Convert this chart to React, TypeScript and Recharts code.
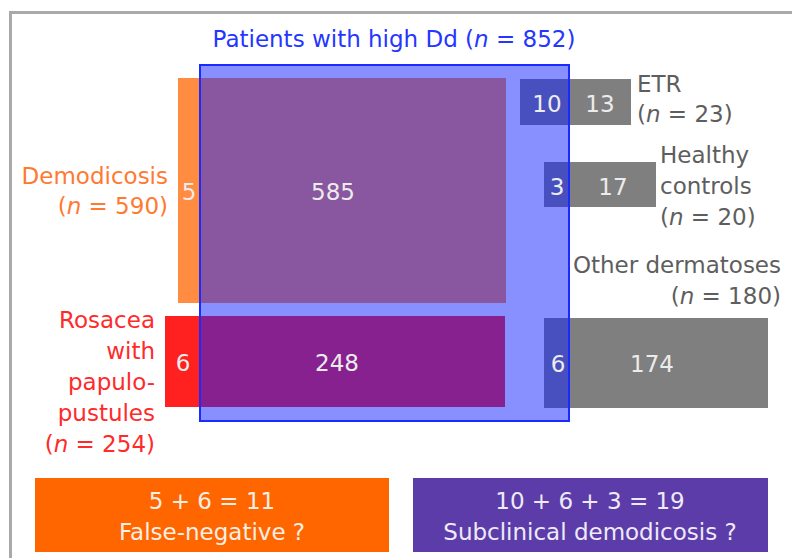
import React from 'react';
import { ComposedChart, XAxis, YAxis, ReferenceArea, ReferenceDot } from 'recharts';

// ---- data ----
const groupLabelLines: string[][] = [
  ['Demodicosis'],
  ['Rosacea', 'with', 'papulo-', 'pustules'],
  ['ETR'],
  ['Healthy', 'controls'],
  ['Other dermatoses'],
];
const groupTotals: number[] = [590, 254, 23, 20, 180];
const highDdCounts: number[] = [585, 248, 10, 3, 6];
const lowDdCounts: number[] = [5, 6, 13, 17, 174];
const highDdTotal = 852;
const highDdTitle = 'Patients with high Dd';
const falseNegativeGroups: number[] = [0, 1];
const subclinicalGroups: number[] = [2, 4, 3];
const summaryTitles: string[] = ['False-negative ?', 'Subclinical demodicosis ?'];

// ---- layout (diagram coordinates) ----
const W = 792;
const H = 558;
const FONT = '"DejaVu Sans", Verdana, sans-serif';
const FS = 23;

const boxLayout = [
  { x1: 178, x2: 506, y1: 78, y2: 303, fill: '#ff8c40', lowX: 189, highX: 333, numY: 200, labelX: 168, labelY: 184, anchor: 'end', labelColor: '#ff7a30', lineH: 29.5 },
  { x1: 165, x2: 505, y1: 316, y2: 407, fill: '#ff2020', lowX: 183, highX: 337, numY: 371, labelX: 155, labelY: 328, anchor: 'end', labelColor: '#ff2a2a', lineH: 31 },
  { x1: 520, x2: 631, y1: 79, y2: 125, fill: '#7f7f7f', lowX: 600, highX: 547, numY: 112, labelX: 637, labelY: 92, anchor: 'start', labelColor: '#5e5e5e', lineH: 29.5 },
  { x1: 544, x2: 656, y1: 162, y2: 207, fill: '#7f7f7f', lowX: 613, highX: 557, numY: 195, labelX: 660, labelY: 163, anchor: 'start', labelColor: '#5e5e5e', lineH: 31 },
  { x1: 544, x2: 768, y1: 318, y2: 408, fill: '#7f7f7f', lowX: 652, highX: 558, numY: 372, labelX: 781, labelY: 273, anchor: 'end', labelColor: '#5e5e5e', lineH: 31 },
];
const blueLayout = { x1: 200, x2: 569, y1: 65, y2: 421, titleX: 394, titleY: 47 };
const summaryLayout = [
  { x1: 35, x2: 389, y1: 478, y2: 552, fill: '#ff6600', text: '#f8efe6', cx: 212 },
  { x1: 413, x2: 768, y1: 478, y2: 552, fill: '#5c3ca8', text: '#eeeaf8', cx: 590 },
];
const summaryBaselines = [509, 540];

const renderLine = (line: string, key: number, x: number, dy: number) => {
  const idx = line.indexOf('(n =');
  if (idx >= 0) {
    return (
      <tspan key={key} x={x} dy={dy}>
        {line.slice(0, idx)}(<tspan fontStyle="italic">n</tspan>
        {line.slice(idx + 2)}
      </tspan>
    );
  }
  return (
    <tspan key={key} x={x} dy={dy}>
      {line}
    </tspan>
  );
};

const textContent = (lines: string[], anchor: string, fill: string, lineH: number) => (props: any) => {
  const vb = props.viewBox || {};
  const x = (vb.x || 0) + (vb.width || 0) / 2;
  const y = (vb.y || 0) + (vb.height || 0) / 2;
  return (
    <text x={x} y={y} textAnchor={anchor} fill={fill} fontSize={FS} fontFamily={FONT}>
      {lines.map((l, i) => renderLine(l, i, x, i === 0 ? 0 : lineH))}
    </text>
  );
};

export default function App() {
  const fnSum = falseNegativeGroups.reduce((s, i) => s + lowDdCounts[i], 0);
  const scSum = subclinicalGroups.reduce((s, i) => s + highDdCounts[i], 0);
  const summaryLines = [
    [`${falseNegativeGroups.map((i) => lowDdCounts[i]).join(' + ')} = ${fnSum}`, summaryTitles[0]],
    [`${subclinicalGroups.map((i) => highDdCounts[i]).join(' + ')} = ${scSum}`, summaryTitles[1]],
  ];
  return (
    <div style={{ position: 'absolute', left: 0, top: 0, width: W, height: H, background: '#ffffff' }}>
      <ComposedChart width={W} height={H} data={[]} margin={{ top: 0, right: 0, bottom: 0, left: 0 }}>
        <XAxis type="number" dataKey="x" domain={[0, W]} hide allowDataOverflow />
        <YAxis type="number" dataKey="y" domain={[0, H]} reversed hide allowDataOverflow />
        {/* frame */}
        <ReferenceArea x1={10.5} x2={W + 10} y1={12.5} y2={H + 10} ifOverflow="visible" fill="none" fillOpacity={0} stroke="#a9a9a9" strokeWidth={3} />
        {/* group boxes */}
        {boxLayout.map((b, i) => (
          <ReferenceArea key={'box' + i} x1={b.x1} x2={b.x2} y1={b.y1} y2={b.y2} fill={b.fill} fillOpacity={1} stroke="none" isAnimationActive={false} />
        ))}
        {/* high Dd overlay */}
        <ReferenceArea x1={blueLayout.x1} x2={blueLayout.x2} y1={blueLayout.y1} y2={blueLayout.y2} fill="#1121ff" fillOpacity={0.5} stroke="#1a2bff" strokeWidth={2} />
        {/* summary boxes */}
        {summaryLayout.map((s, i) => (
          <ReferenceArea key={'sum' + i} x1={s.x1} x2={s.x2} y1={s.y1} y2={s.y2} fill={s.fill} fillOpacity={1} stroke="none" />
        ))}
        {/* texts */}
        <ReferenceDot x={blueLayout.titleX} y={blueLayout.titleY} r={0} fill="none" stroke="none"
          label={textContent([`${highDdTitle} (n = ${highDdTotal})`], 'middle', '#2436ff', 0)} />
        {boxLayout.map((b, i) => (
          <ReferenceDot key={'lab' + i} x={b.labelX} y={b.labelY} r={0} fill="none" stroke="none"
            label={textContent([...groupLabelLines[i], `(n = ${groupTotals[i]})`], b.anchor, b.labelColor, b.lineH)} />
        ))}
        {boxLayout.map((b, i) => (
          <ReferenceDot key={'hi' + i} x={b.highX} y={b.numY} r={0} fill="none" stroke="none"
            label={textContent([String(highDdCounts[i])], 'middle', '#ececec', 0)} />
        ))}
        {boxLayout.map((b, i) => (
          <ReferenceDot key={'lo' + i} x={b.lowX} y={b.numY} r={0} fill="none" stroke="none"
            label={textContent([String(lowDdCounts[i])], 'middle', '#ececec', 0)} />
        ))}
        {summaryLayout.map((s, i) => (
          <ReferenceDot key={'st' + i} x={s.cx} y={summaryBaselines[0]} r={0} fill="none" stroke="none"
            label={textContent(summaryLines[i], 'middle', s.text, summaryBaselines[1] - summaryBaselines[0])} />
        ))}
      </ComposedChart>
    </div>
  );
}
